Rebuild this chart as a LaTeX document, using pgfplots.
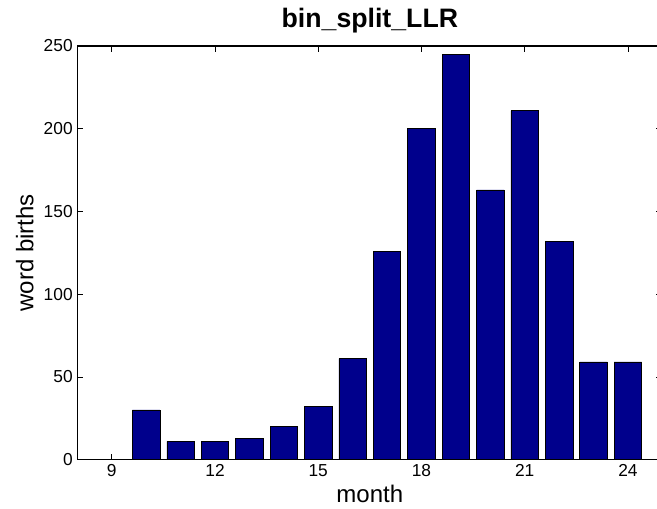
\documentclass[border=0pt]{standalone}
\usepackage{fontspec}
\setmainfont{Liberation Sans}
\usepackage{pgfplots}
\pgfplotsset{compat=1.18}
\definecolor{matblue}{RGB}{0,0,140}

\begin{document}
\begin{tikzpicture}
\begin{axis}[
    name=ax,
    scale only axis,
    width=438.5pt, height=310pt,
    xmin=8, xmax=25,
    ymin=0, ymax=250,
    xtick={9,12,...,24},
    ytick={0,50,...,250},
    tick align=inside,
    major tick length=4.5pt,
    tick style={black, line width=0.5pt},
    axis line style={line width=0.8pt},
    tick label style={font=\fontsize{13}{15}\selectfont},
    /pgf/number format/assume math mode=true,
    title={\textbf{bin\_split\_LLR}},
    title style={font=\fontsize{20}{24}\selectfont, at={(axis description cs:0.5,1.0258)}, anchor=base},
    xlabel={month},
    ylabel={word births},
    label style={font=\fontsize{18}{21}\selectfont},
    xlabel style={at={(axis description cs:0.5,-0.104)}, anchor=base},
    ylabel style={at={(axis description cs:-0.0753,0.5)}, anchor=base},
]
\addplot[ybar, bar width=0.8, fill=matblue, draw=black, line width=0.5pt]
coordinates {
(9,0)(10,30)(11,11)(12,11)(13,13)(14,20)(15,32)(16,61)(17,126)
(18,200)(19,245)(20,163)(21,211)(22,132)(23,59)(24,59)
};
\end{axis}
\pgfresetboundingbox
\path[use as bounding box] ([xshift=-58pt,yshift=-36.5pt]ax.south west) rectangle ([xshift=-4pt,yshift=34.5pt]ax.north east);
\end{tikzpicture}
\end{document}
